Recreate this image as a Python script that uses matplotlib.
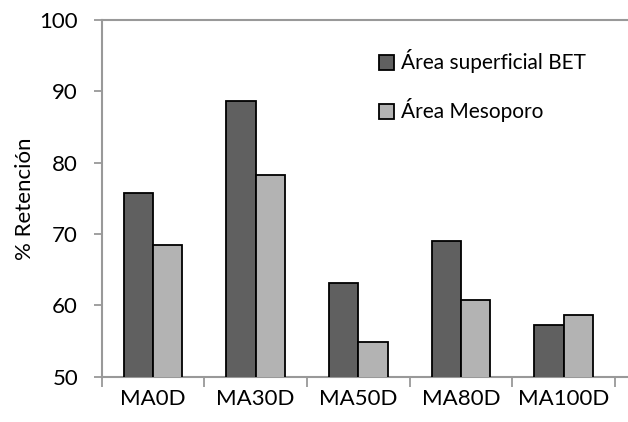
import matplotlib
matplotlib.use("Agg")
import matplotlib.pyplot as plt
import numpy as np

categories = ["MA0D", "MA30D", "MA50D", "MA80D", "MA100D"]
bet = [75.8, 88.6, 63.2, 69.0, 57.2]
meso = [68.4, 78.3, 54.9, 60.7, 58.7]
series_names = ["Área superficial BET", "Área Mesoporo"]
yticks = [50, 60, 70, 80, 90, 100]

plt.rcParams['font.family'] = ['Lato', 'DejaVu Sans']

fig = plt.figure(figsize=(6.28, 4.22), dpi=100)
left = 101.7 / 628
bottom = (422 - 376.7) / 422
top = (422 - 20) / 422
ax = fig.add_axes([left, bottom, 1.0 - left, top - bottom])

x = np.arange(len(categories))
w = 0.287
ax.bar(x - w / 2, bet, w, color="#606060", edgecolor="black", linewidth=1.3,
       label=series_names[0], zorder=3)
ax.bar(x + w / 2, meso, w, color="#b3b3b3", edgecolor="black", linewidth=1.3,
       label=series_names[1], zorder=3)

ax.set_ylim(50, 100)
ax.set_xlim(-0.5, 4.5 + 13 / 102.7)
ax.set_yticks(yticks)
ax.set_xticks(x)
ax.set_xticklabels(categories)
ax.set_xticks(np.arange(-0.5, 5.0, 1.0), minor=True)
ax.tick_params(axis='x', which='major', length=0, labelsize=16, pad=9)
ax.tick_params(axis='x', which='minor', length=7, color="#999999", width=1.3, direction='out')
ax.tick_params(axis='y', length=6, color="#999999", width=1.3, labelsize=16, pad=11)

for s in ['left', 'bottom', 'top']:
    ax.spines[s].set_color("#999999")
    ax.spines[s].set_linewidth(1.5)
ax.spines['right'].set_visible(False)

ax.set_ylabel("% Retención", fontsize=16, labelpad=3)

leg = ax.legend(loc='upper left', bbox_to_anchor=((360 - 101.7) / (628 - 101.7), 0.97),
                frameon=False, fontsize=15, handlelength=0.75, handleheight=0.75,
                handletextpad=0.3, labelspacing=1.2)

fig.savefig("out.png", dpi=100)
